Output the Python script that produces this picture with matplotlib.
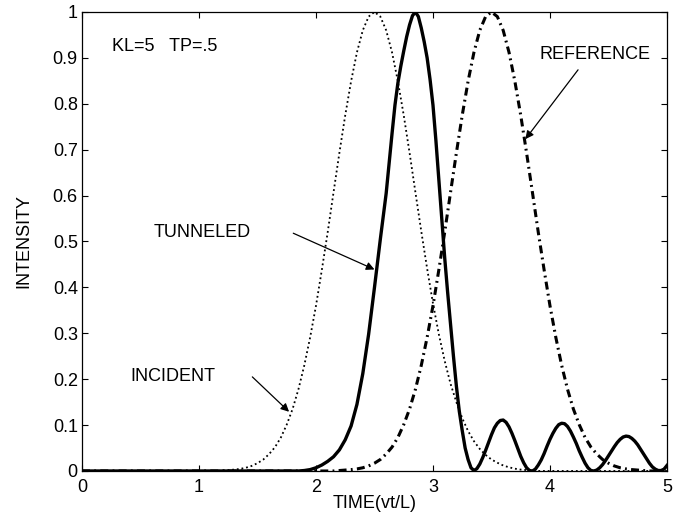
import numpy as np
import matplotlib
matplotlib.use('Agg')
import matplotlib.pyplot as plt

plt.rcParams['font.family'] = ['Liberation Sans', 'DejaVu Sans']

# time axis, sampled every 0.05 (vt/L)
time = np.round(np.arange(0, 101) * 0.05, 3)
# the tunneled pulse is read finer (every 0.025) from 2.6 on
tunneled_time = np.concatenate([np.arange(0, 52) * 0.05,
                                2.6 + np.arange(0, 97) * 0.025])

# values
incident = [0.0] * 24 + [
    0.001, 0.002, 0.003, 0.0045, 0.007, 0.011, 0.017, 0.025, 0.037, 0.052,
    0.073, 0.101, 0.135, 0.178, 0.230, 0.291, 0.360, 0.438, 0.520, 0.607,
    0.693, 0.775, 0.849, 0.912, 0.960, 0.990, 1.000, 0.990, 0.960, 0.912,
    0.849, 0.775, 0.693, 0.607, 0.522, 0.441, 0.365, 0.298, 0.240, 0.190,
    0.150, 0.115, 0.087, 0.065, 0.048, 0.035, 0.025, 0.018, 0.012, 0.008,
    0.005, 0.003, 0.002, 0.001] + [0.0] * 23

reference = [0.0] * 44 + [
    0.001, 0.002, 0.003, 0.0045, 0.007, 0.011, 0.017, 0.025, 0.037, 0.052,
    0.073, 0.101, 0.135, 0.178, 0.230, 0.291, 0.360, 0.438, 0.520, 0.607,
    0.693, 0.775, 0.849, 0.912, 0.960, 0.990, 1.000, 0.990, 0.960, 0.912,
    0.849, 0.775, 0.693, 0.607, 0.520, 0.438, 0.360, 0.291, 0.230, 0.178,
    0.135, 0.101, 0.073, 0.052, 0.037, 0.025, 0.017, 0.011, 0.007, 0.0045,
    0.003, 0.002, 0.001] + [0.0] * 4

tunneled = [0.0] * 38 + [
    # 1.90 .. 2.55
    0.001, 0.003, 0.007, 0.013, 0.021, 0.031, 0.046, 0.068, 0.098, 0.145,
    0.212, 0.298, 0.400, 0.505,
    # main peak 2.600 .. 3.350
    0.605, 0.670, 0.735, 0.797, 0.845, 0.882, 0.915, 0.946, 0.972, 0.992,
    1.000, 0.990, 0.965, 0.935, 0.900, 0.853, 0.797, 0.720, 0.635, 0.550,
    0.465, 0.390, 0.320, 0.250, 0.185, 0.130, 0.088, 0.050, 0.025, 0.007,
    0.001,
    # first side lobe 3.375 .. 3.850
    0.005, 0.015, 0.029, 0.045, 0.062, 0.079, 0.094, 0.104, 0.110, 0.111,
    0.106, 0.096, 0.082, 0.066, 0.049, 0.032, 0.018, 0.007, 0.001, 0.000,
    # second side lobe 3.875 .. 4.375
    0.004, 0.013, 0.024, 0.038, 0.054, 0.069, 0.082, 0.093, 0.101, 0.104,
    0.103, 0.097, 0.087, 0.074, 0.060, 0.044, 0.030, 0.017, 0.007, 0.001,
    0.000,
    # third side lobe 4.400 .. 5.000
    0.002, 0.007, 0.014, 0.023, 0.033, 0.043, 0.053, 0.062, 0.069, 0.074,
    0.076, 0.075, 0.071, 0.065, 0.057, 0.047, 0.037, 0.027, 0.017, 0.009,
    0.004, 0.001, 0.001, 0.004, 0.012]

x_ticks = [0, 1, 2, 3, 4, 5]
y_ticks = [0, 0.1, 0.2, 0.3, 0.4, 0.5, 0.6, 0.7, 0.8, 0.9, 1]
y_tick_labels = ['0', '0.1', '0.2', '0.3', '0.4', '0.5', '0.6', '0.7', '0.8', '0.9', '1']

fig = plt.figure(figsize=(6.81, 5.21), dpi=100)
ax = fig.add_axes([0.1204, 0.0960, 0.8590, 0.8810])

ax.plot(time, incident, color='black', lw=1.3, linestyle=(0, (1, 1.6)))
ax.plot(tunneled_time, tunneled, color='black', lw=2.4, linestyle='-')
ax.plot(time, reference, color='black', lw=2.2, linestyle=(0, (2.6, 1.4, 0.6, 1.4)))

ax.set_xlim(0, 5)
ax.set_ylim(0, 1)
ax.set_xticks(x_ticks)
ax.set_yticks(y_ticks)
ax.set_yticklabels(y_tick_labels)
ax.tick_params(direction='in', top=True, right=True, length=4, width=0.8,
               labelsize=13, pad=3)
ax.tick_params(axis='x', pad=6)
for s in ax.spines.values():
    s.set_linewidth(0.9)

ax.set_xlabel('TIME(vt/L)', fontsize=13)
ax.set_ylabel('INTENSITY', fontsize=13)
ax.xaxis.set_label_coords(0.5, -0.052)
ax.yaxis.set_label_coords(-0.0855, 0.5)

ax.text(0.26, 0.924, 'KL=5   TP=.5', fontsize=13, ha='left', va='center')

arrow = dict(arrowstyle='-|>', color='black', lw=0.9, mutation_scale=12,
             shrinkA=0, shrinkB=0)
ax.text(0.61, 0.52, 'TUNNELED', fontsize=13, ha='left', va='center')
ax.annotate('', xy=(2.50, 0.439), xytext=(1.806, 0.518), arrowprops=arrow)

ax.text(0.41, 0.205, 'INCIDENT', fontsize=13, ha='left', va='center')
ax.annotate('', xy=(1.77, 0.129), xytext=(1.456, 0.205), arrowprops=arrow)

ax.text(3.91, 0.908, 'REFERENCE', fontsize=13, ha='left', va='center')
ax.annotate('', xy=(3.79, 0.723), xytext=(4.24, 0.874), arrowprops=arrow)

fig.savefig('out.png', dpi=100)
